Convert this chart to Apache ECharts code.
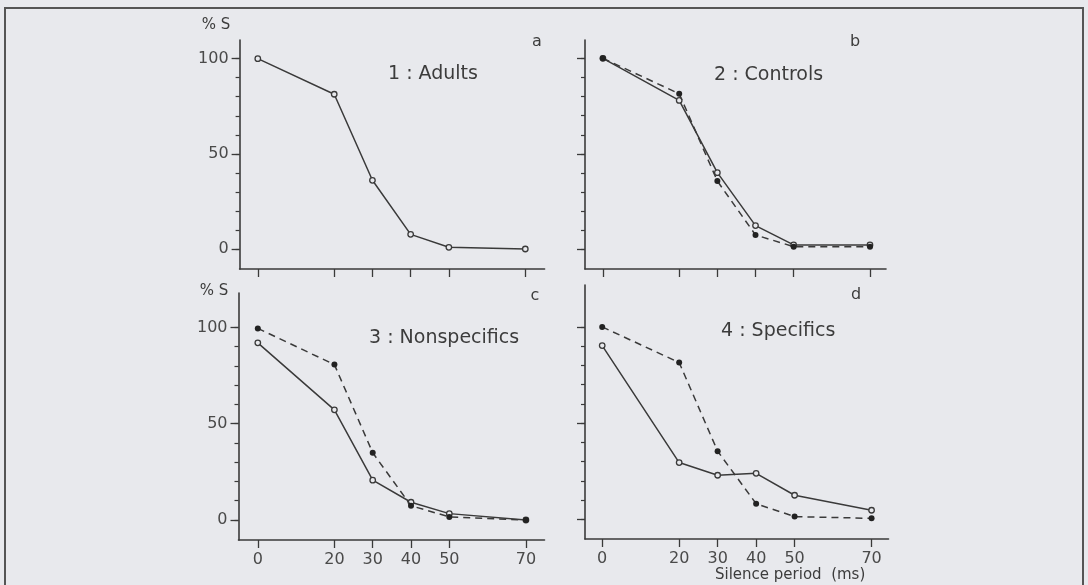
<!DOCTYPE html>
<html>
<head>
<meta charset="utf-8">
<script src="https://cdn.jsdelivr.net/npm/echarts@6/dist/echarts.min.js"></script>
<style>
html,body{margin:0;padding:0;background:#e8e9ed;}
#chart{width:1088px;height:585px;}
</style>
</head>
<body>
<div id="chart"></div>
<script>
// ---- data ----
const silencePeriods = [0, 20, 30, 40, 50, 70];
const xTickValues = [0, 20, 30, 40, 50, 70];
const yMajorTicks = [0, 50, 100];
const yMinorTicks = [0, 10, 20, 30, 40, 50, 60, 70, 80, 90, 100];

const adultsOpen      = [100, 81.3, 36.1, 7.7, 0.9, 0];
const controlsOpen    = [100, 78.0, 40.2, 12.5, 2.4, 2.4];
const controlsFilled  = [100, 81.5, 35.8, 7.6, 1.5, 1.5];
const nonspecOpen     = [92.0, 57.2, 20.7, 9.2, 3.3, 0];
const nonspecFilled   = [99.5, 80.7, 34.9, 7.4, 1.6, 0];
const specOpen        = [90.3, 29.5, 22.9, 23.9, 12.5, 4.7];
const specFilled      = [100, 81.5, 35.4, 8.1, 1.4, 0.5];

const panelTitles = ['1 : Adults', '2 : Controls', '3 : Nonspecifics', '4 : Specifics'];
const panelLetters = ['a', 'b', 'c', 'd'];
const yAxisTitle = '% S';
const xAxisTitle = 'Silence period  (ms)';

// ---- layout ----
const INK = '#3a3a3a';
const BG = '#e8e9ed';
const FONT = '"DejaVu Sans", sans-serif';
const panels = [
  {grid:{left:239.6, top:40, width:305, height:229}, x:[-4.76, 75.05], y:[-10.5, 109.8], xLabels:false, series:[{d:adultsOpen, filled:false}]},
  {grid:{left:585, top:40, width:301, height:229}, x:[-4.69, 74.2], y:[-10.2, 109.6], xLabels:false, series:[{d:controlsOpen, filled:false},{d:controlsFilled, filled:true}]},
  {grid:{left:238.5, top:293, width:306, height:247}, x:[-5.04, 74.85], y:[-10.4, 117.9], xLabels:true, series:[{d:nonspecOpen, filled:false},{d:nonspecFilled, filled:true}]},
  {grid:{left:585, top:285, width:303.5, height:254}, x:[-4.47, 74.4], y:[-10.24, 121.8], xLabels:true, series:[{d:specOpen, filled:false},{d:specFilled, filled:true}]}
];
const showYLabels = [true, false, true, false];

const grid = [], xAxis = [], yAxis = [], series = [];
panels.forEach((p, i) => {
  grid.push(Object.assign({containLabel:false}, p.grid));
  xAxis.push({
    type:'value', gridIndex:i, min:p.x[0], max:p.x[1], position:'bottom',
    axisLine:{show:true, onZero:false, lineStyle:{color:INK, width:1.6}},
    axisTick:{show:true, inside:false, length:8, customValues:xTickValues, lineStyle:{color:INK, width:1.3}},
    axisLabel:{show:p.xLabels, customValues:xTickValues, margin:12, color:'#4a4a4a', fontSize:16, fontFamily:FONT},
    splitLine:{show:false}
  });
  // major ticks + labels
  yAxis.push({
    type:'value', gridIndex:i, min:p.y[0], max:p.y[1], position:'left',
    axisLine:{show:true, onZero:false, lineStyle:{color:INK, width:1.6}},
    axisTick:{show:true, length:8, customValues:yMajorTicks, lineStyle:{color:INK, width:1.3}},
    axisLabel:{show:showYLabels[i], customValues:yMajorTicks, margin:11, color:'#4a4a4a', fontSize:16, fontFamily:FONT},
    splitLine:{show:false}
  });
  // minor ticks
  yAxis.push({
    type:'value', gridIndex:i, min:p.y[0], max:p.y[1], position:'left', offset:0,
    axisLine:{show:false, onZero:false},
    axisTick:{show:true, length:4, customValues:yMinorTicks, lineStyle:{color:INK, width:1.2}},
    axisLabel:{show:false},
    splitLine:{show:false}
  });
  p.series.forEach(s => {
    series.push({
      type:'line', xAxisIndex:i, yAxisIndex:2*i,
      data: silencePeriods.map((x, k) => [x, s.d[k]]),
      symbol: 'circle',
      symbolSize: s.filled ? 6 : 5.5,
      itemStyle: s.filled ? {color:'#222', borderWidth:0} : {color:BG, borderColor:INK, borderWidth:1.3},
      lineStyle:{color:INK, width:1.5, type: s.filled ? [7,5] : 'solid'},
      z: s.filled ? 3 : 2,
      animation:false
    });
  });
});

const textEl = (txt, x, y, size, align) => ({
  type:'text', x:x, y:y, silent:true,
  style:{text:txt, fill:'#3c3c3c', font: size + 'px ' + FONT, align: align || 'left', verticalAlign:'middle'}
});

const graphic = [
  {type:'polyline', shape:{points:[[5,585],[5,8],[1083,8],[1083,585]]}, style:{stroke:'#555', lineWidth:2, fill:null}, silent:true},
  textEl(panelTitles[0], 388, 74, 19),
  textEl(panelTitles[1], 714, 75, 19),
  textEl(panelTitles[2], 369, 338, 19),
  textEl(panelTitles[3], 721, 331, 19),
  textEl(panelLetters[0], 537, 42, 16, 'center'),
  textEl(panelLetters[1], 855, 42, 16, 'center'),
  textEl(panelLetters[2], 535, 296, 16, 'center'),
  textEl(panelLetters[3], 856, 295, 16, 'center'),
  textEl(yAxisTitle, 216, 25, 15, 'center'),
  textEl(yAxisTitle, 214, 291, 15, 'center'),
  textEl(xAxisTitle, 715, 575, 15)
];

const chart = echarts.init(document.getElementById('chart'), null, {renderer:'canvas'});
chart.setOption({
  backgroundColor: BG,
  animation:false,
  grid, xAxis, yAxis, series, graphic
});
</script>
</body>
</html>
